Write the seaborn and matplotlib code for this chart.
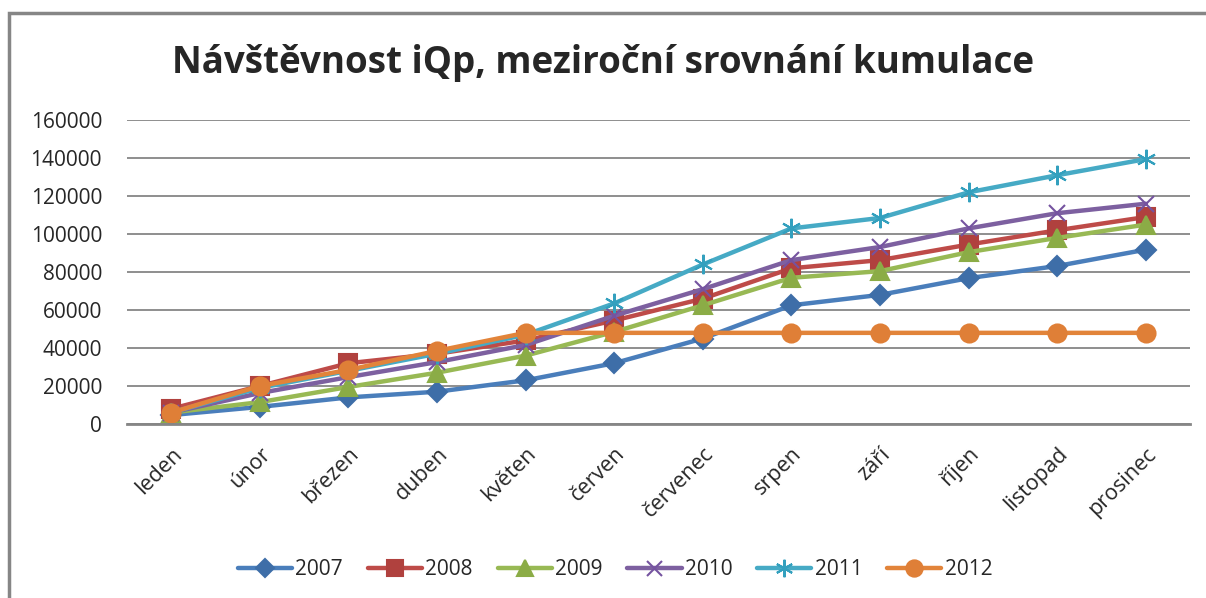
import matplotlib
matplotlib.use("Agg")
import matplotlib.pyplot as plt
from matplotlib.patches import Rectangle
import pandas as pd
import seaborn as sns

# --- data ---
months = ["leden", "únor", "březen", "duben", "květen", "červen",
          "červenec", "srpen", "září", "říjen", "listopad", "prosinec"]
v2007 = [4700, 9000, 14000, 17000, 23000, 32000, 45000, 62500, 68000, 76800, 83200, 91800]
v2008 = [8000, 20000, 32000, 37000, 44000, 54500, 66000, 82000, 86300, 94500, 102000, 109000]
v2009 = [6000, 11500, 19500, 27000, 36000, 48500, 62500, 77000, 80500, 90500, 98000, 105000]
v2010 = [6000, 16300, 24700, 32600, 41600, 57000, 71000, 86300, 93200, 103000, 111000, 116000]
v2011 = [6000, 19000, 28000, 37000, 47000, 63500, 84000, 103000, 108500, 122000, 131000, 139500]
v2012 = [6000, 20000, 28500, 38500, 48000, 48000, 48000, 48000, 48000, 48000, 48000, 48000]

years = ["2007", "2008", "2009", "2010", "2011", "2012"]
series = [v2007, v2008, v2009, v2010, v2011, v2012]

line_colors = ["#4a7ebb", "#be4b48", "#98b954", "#7d60a0", "#46aac5", "#e2843a"]
marker_colors = ["#3e6ea8", "#b0413e", "#8bac46", "#7553a0", "#33a0be", "#df7f37"]
markers = ["D", "s", "^", "x", (6, 2, 0), "o"]
msizes = [10, 13, 13, 12, 14, 13]

df = pd.DataFrame({
    "month": months * len(years),
    "year": [y for y in years for _ in months],
    "value": [v for s in series for v in s],
})
df["pos"] = df["month"].map({m: i for i, m in enumerate(months)})

sns.set_style("white")
plt.rcParams["font.family"] = ["Open Sans", "DejaVu Sans"]

fig = plt.figure(figsize=(12.06, 5.98), dpi=100)
ax = fig.add_axes([0.1053, 0.291, 0.8814, 0.508])

for yr, lc, mc, mk, ms in zip(years, line_colors, marker_colors, markers, msizes):
    sub = df[df["year"] == yr]
    sns.lineplot(data=sub, x="pos", y="value", ax=ax, color=lc, linewidth=3.2,
                 marker=mk, markersize=ms, markerfacecolor=mc, markeredgecolor=mc,
                 markeredgewidth=1.5, label=yr, legend=False)

ax.set_xlim(-0.5, 11.5)
ax.set_ylim(0, 160000)
ax.set_yticks(range(0, 160001, 20000))
ax.set_xticks(range(len(months)))
ax.set_xticklabels(months, rotation=45, ha="right", rotation_mode="anchor")
ax.tick_params(axis="x", labelsize=15.5, pad=14, length=0)
ax.tick_params(axis="y", labelsize=15, pad=18, length=0)
ax.set_xlabel("")
ax.set_ylabel("")
ax.yaxis.grid(True, color="#868686", linewidth=1.3)
ax.set_axisbelow(True)
for side in ["left", "right", "top"]:
    ax.spines[side].set_visible(False)
ax.spines["bottom"].set_color("#868686")
ax.spines["bottom"].set_linewidth(2)

fig.text(0.5, 0.895, "Návštěvnost iQp, meziroční srovnání kumulace",
         ha="center", va="center", fontsize=26.5, fontweight="bold")

handles, labels = ax.get_legend_handles_labels()
fig.legend(handles, labels, loc="center", bbox_to_anchor=(0.51, 0.047), ncol=6,
           frameon=False, fontsize=15, handlelength=2.6, columnspacing=1.2,
           handletextpad=0.15, markerscale=0.9)

# outer chart frame (cut off at right and bottom like the reference)
fig.patches.append(Rectangle((9 / 1206, -0.1), 1.2, (598 - 13) / 598 + 0.1,
                             transform=fig.transFigure, fill=False,
                             edgecolor="#868686", linewidth=2.5))

fig.savefig("out.png", dpi=100)
